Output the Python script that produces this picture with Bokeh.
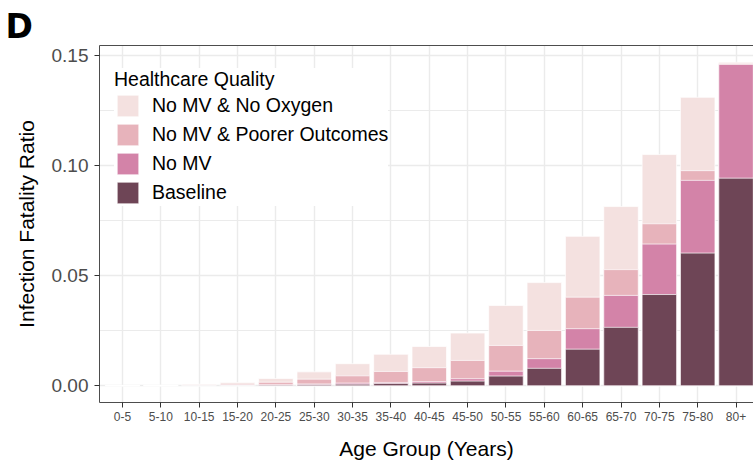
from bokeh.plotting import figure
from bokeh.models import (Range1d, FixedTicker, NumeralTickFormatter, Legend,
                          LegendItem, LinearAxis, ColumnDataSource)
from bokeh.embed import file_html
from bokeh.resources import INLINE

# Infection fatality ratio by age group under four healthcare-quality scenarios
age_groups = ["0-5", "5-10", "10-15", "15-20", "20-25", "25-30", "30-35", "35-40",
              "40-45", "45-50", "50-55", "55-60", "60-65", "65-70", "70-75", "75-80", "80+"]
no_mv_no_oxygen = [0.0002, 0.0003, 0.0007, 0.0015, 0.0033, 0.0063, 0.0100, 0.0143, 0.0178,
                   0.0239, 0.0364, 0.0468, 0.0678, 0.0813, 0.1049, 0.1309, 0.1468]
no_mv_poorer = [0.0001, 0.0001, 0.0003, 0.0007, 0.0016, 0.0030, 0.0045, 0.0065, 0.0082,
                0.0115, 0.0183, 0.0251, 0.0402, 0.0527, 0.0735, 0.0976, 0.1462]
no_mv = [0.00003, 0.00005, 0.0001, 0.0002, 0.0004, 0.0008, 0.0012, 0.0015, 0.0019,
         0.0032, 0.0066, 0.0123, 0.0259, 0.0410, 0.0643, 0.0932, 0.1458]
baseline = [0.00002, 0.00003, 0.00006, 0.0001, 0.0003, 0.0005, 0.0007, 0.0010, 0.0012,
            0.0021, 0.0044, 0.0079, 0.0166, 0.0265, 0.0414, 0.0602, 0.0942]

series_names = ["No MV & No Oxygen", "No MV & Poorer Outcomes", "No MV", "Baseline"]
series_values = [no_mv_no_oxygen, no_mv_poorer, no_mv, baseline]
series_colors = ["#F4E1E0", "#E7B3BB", "#D383A8", "#6E4556"]

FONT = "Liberation Sans"
x_pos = list(range(len(age_groups)))

p = figure(width=753, height=466, output_backend="svg", toolbar_location=None,
           x_range=Range1d(-0.6, 16.455), y_range=Range1d(-0.0076, 0.1544),
           min_border_left=99, min_border_right=0, min_border_top=45, min_border_bottom=64,
           x_axis_label="Age Group (Years)", y_axis_label="Infection Fatality Ratio")
p.background_fill_color = "white"
p.border_fill_color = "white"
p.outline_line_color = None

# panel letter
p.title.text = "D"
p.title.text_font = "DejaVu Sans"
p.title.text_font_style = "bold"
p.title.text_font_size = "33px"
p.title.text_color = "black"
p.title.align = "left"
p.title.offset = -94
p.title.standoff = 0

# overlapping bars, tallest scenario at the back
renderers = []
for name, vals, col in zip(series_names, series_values, series_colors):
    src = ColumnDataSource(dict(x=x_pos, top=vals))
    r = p.vbar(x="x", top="top", bottom=0, width=0.9, source=src,
               fill_color=col, line_color="white", line_width=0.7)
    renderers.append(r)

# axes
p.xaxis.ticker = FixedTicker(ticks=x_pos)
p.xaxis.major_label_overrides = {i: g for i, g in enumerate(age_groups)}
p.yaxis.ticker = FixedTicker(ticks=[0, 0.05, 0.10, 0.15],
                             minor_ticks=[0.025, 0.075, 0.125])
p.yaxis.formatter = NumeralTickFormatter(format="0.00")

for ax in (p.xaxis[0], p.yaxis[0]):
    ax.axis_line_color = "#4D4D4D"
    ax.axis_line_width = 1
    ax.major_tick_line_color = "#333333"
    ax.major_tick_out = 5
    ax.major_tick_in = 0
    ax.minor_tick_line_color = None
    ax.major_label_text_font = FONT
    ax.major_label_text_color = "#4D4D4D"
    ax.axis_label_text_font = FONT
    ax.axis_label_text_font_style = "normal"
    ax.axis_label_text_color = "black"
    ax.axis_label_text_font_size = "21px"

p.yaxis.major_label_text_font_size = "19px"
p.yaxis.major_label_standoff = 6
p.yaxis.axis_label_standoff = 11
p.xaxis.major_label_text_font_size = "12px"
p.xaxis.major_label_standoff = 4
p.xaxis.axis_label_standoff = 13

# top border of the panel
top_axis = LinearAxis(ticker=FixedTicker(ticks=[]), axis_line_color="#4D4D4D",
                      major_tick_line_color=None, minor_tick_line_color=None,
                      major_tick_out=0, major_tick_in=0,
                      major_label_text_font_size="0px")
p.add_layout(top_axis, "above")

# grid
p.xgrid.grid_line_color = "#EBEBEB"
p.xgrid.grid_line_width = 1.4
p.ygrid.grid_line_color = "#EBEBEB"
p.ygrid.grid_line_width = 1.4
p.ygrid.minor_grid_line_color = "#EBEBEB"
p.ygrid.minor_grid_line_width = 1.0

legend = Legend(
    items=[LegendItem(label=n, renderers=[r]) for n, r in zip(series_names, renderers)],
    location=(15, 196), title="Healthcare Quality",
    title_text_font=FONT, title_text_font_size="19.5px", title_text_font_style="normal",
    title_text_color="black", title_standoff=1,
    label_text_font=FONT, label_text_font_size="19.5px", label_text_color="black",
    glyph_width=27, glyph_height=27, label_standoff=11, spacing=2,
    padding=10, margin=0, border_line_color=None,
    background_fill_color="white", background_fill_alpha=1.0)
p.add_layout(legend)

open("out.html", "w").write(file_html(p, INLINE))
